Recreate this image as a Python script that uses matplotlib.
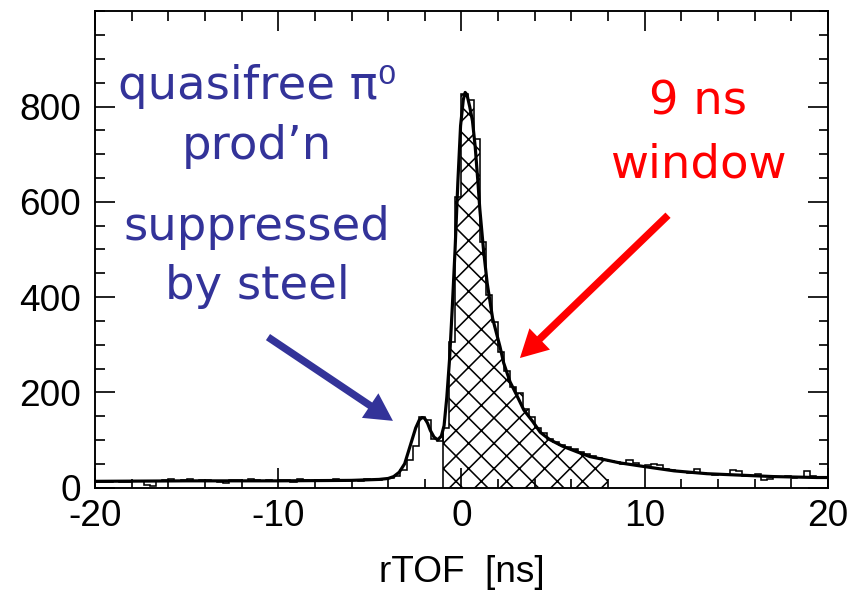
import matplotlib
matplotlib.use("Agg")
import matplotlib.pyplot as plt
from matplotlib.ticker import MultipleLocator
import numpy as np

# rTOF histogram, 120 bins of 1/3 ns from -20 to 20 ns
bin_lo, bin_hi, n_bins = -20.0, 20.0, 120
counts = [
    12, 11, 12, 13, 12, 11, 14, 13, 5, 4,
    14, 15, 17, 14, 16, 18, 13, 15, 16, 14,
    12, 10, 15, 16, 13, 17, 15, 14, 16, 13,
    15, 16, 12, 17, 15, 14, 16, 13, 15, 17,
    14, 16, 15, 13, 17, 16, 15, 18, 19, 24,
    36, 58, 88, 148, 142, 102, 97, 125, 306, 610,
    826, 815, 732, 516, 405, 348, 285, 245, 212, 198,
    165, 148, 125, 115, 102, 96, 90, 86, 80, 75,
    70, 66, 62, 58, 55, 54, 50, 58, 52, 46,
    48, 49, 47, 38, 37, 34, 33, 31, 39, 30,
    28, 26, 28, 27, 36, 35, 25, 24, 29, 16,
    17, 23, 22, 24, 21, 22, 34, 25, 20, 19,
]

# fitted curve
fit_x = [-20, -15, -10, -6, -4.5, -4.0, -3.7, -3.4, -3.1, -2.9, -2.7, -2.5,
         -2.3, -2.15, -2.0, -1.85, -1.7, -1.5, -1.3, -1.1, -0.95, -0.8, -0.65,
         -0.5, -0.35, -0.2, -0.05, 0.1, 0.2, 0.3, 0.45, 0.6, 0.75, 0.9, 1.0,
         1.2, 1.4, 1.7, 2.1, 2.3, 2.65, 3.0, 3.4, 3.9, 4.3, 4.8, 5.5, 6.3,
         7.0, 7.75, 8.6, 9.8, 11.6, 13.4, 15.2, 17, 19.4, 20]
fit_y = [13, 14, 14, 15, 17, 19, 23, 32, 50, 75, 100, 125,
         142, 147, 145, 135, 120, 106, 100, 108, 130, 190, 270,
         380, 500, 640, 760, 815, 830, 825, 800, 770, 715, 640, 585,
         500, 430, 355, 296, 262, 222, 195, 163, 138, 116, 101, 87, 75,
         65, 59, 52, 45, 35, 29, 26, 23, 21, 21]

# 9 ns timing window
win_lo, win_hi = -1.0, 8.0

blue = "#333399"
red = "#ff0000"

plt.rcParams["axes.unicode_minus"] = False
plt.rcParams["hatch.linewidth"] = 1.5

dpi = 76
fig = plt.figure(figsize=(855 / dpi, 592 / dpi), dpi=dpi)
ax = fig.add_axes([0.1111, 0.1765, 0.8573, 0.8041])

edges = np.linspace(bin_lo, bin_hi, n_bins + 1)
counts = np.array(counts, dtype=float)

# hatched window
i0 = int(round((win_lo - bin_lo) * 3))
i1 = int(round((win_hi - bin_lo) * 3))
wx = edges[i0:i1 + 1]
wy = np.append(counts[i0:i1], counts[i1 - 1])
ax.fill_between(wx, 0, wy, step="post", facecolor="none", edgecolor="black",
                hatch="x", linewidth=0)
ax.vlines(win_lo, 0, counts[i0], color="black", lw=1.5)

# histogram
ax.stairs(counts, edges, color="black", lw=1.5)
# fit
ax.plot(fit_x, fit_y, color="black", lw=3)

ax.set_xlim(-20, 20)
ax.set_ylim(0, 1000)
ax.set_xticks([-20, -10, 0, 10, 20])
ax.set_yticks([0, 200, 400, 600, 800])
ax.xaxis.set_minor_locator(MultipleLocator(2))
ax.yaxis.set_minor_locator(MultipleLocator(50))
ax.tick_params(which="both", direction="in", top=True, right=True, width=1.6)
ax.tick_params(which="major", length=19)
ax.tick_params(which="minor", length=9)
ax.tick_params(axis="x", labelsize=35, pad=11)
ax.tick_params(axis="y", labelsize=35, pad=13)
for lab in ax.get_xticklabels() + ax.get_yticklabels():
    lab.set_fontfamily("Liberation Sans")
for s in ax.spines.values():
    s.set_linewidth(1.8)

ax.set_xlabel("rTOF  [ns]", fontsize=35, fontfamily="Liberation Sans")
ax.xaxis.label.set_va("center")
ax.xaxis.set_label_coords(0.5, -0.178)

# annotations
ax.text(-11.15, 780, "quasifree \u03c0\u2070\nprod\u2019n", color=blue, fontsize=44,
        ha="center", va="center", linespacing=1.42)
ax.text(-11.15, 484, "suppressed\nby steel", color=blue, fontsize=44,
        ha="center", va="center", linespacing=1.42)
ax.text(12.9, 744, "9 ns\nwindow", color=red, fontsize=44,
        ha="center", va="center", linespacing=1.5)

ax.annotate("", xy=(-3.74, 140), xytext=(-10.56, 316),
            arrowprops=dict(arrowstyle="simple,head_length=26,head_width=28,tail_width=7",
                            mutation_scale=1, color=blue, lw=0, shrinkA=0, shrinkB=0))
ax.annotate("", xy=(3.19, 272), xytext=(11.27, 572),
            arrowprops=dict(arrowstyle="simple,head_length=26,head_width=28,tail_width=7",
                            mutation_scale=1, color=red, lw=0, shrinkA=0, shrinkB=0))

fig.savefig("out.png", dpi=dpi)
